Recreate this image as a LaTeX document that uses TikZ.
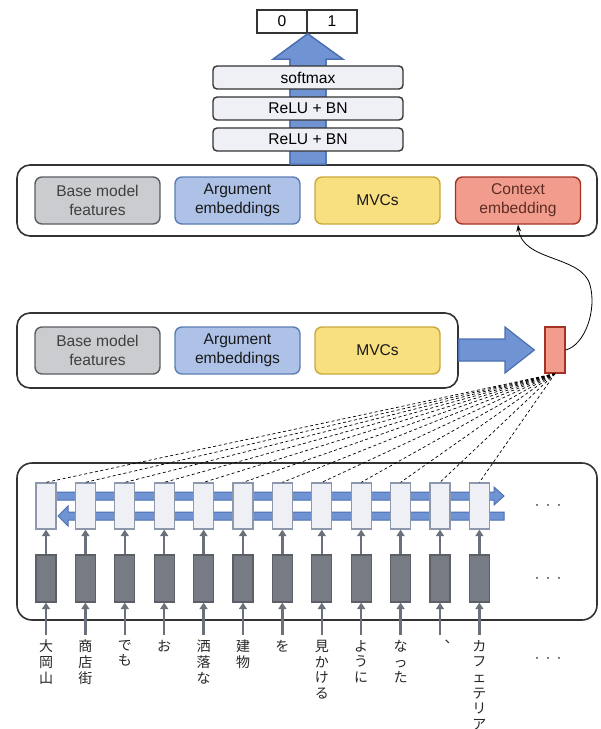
\documentclass[tikz,border=0pt]{standalone}
\usepackage{fontspec}
\setmainfont{Liberation Sans}
\newfontfamily\jpfont{Noto Sans CJK JP}
\usetikzlibrary{arrows.meta,calc}

\definecolor{frame}{HTML}{333333}
\definecolor{layerfill}{HTML}{EFF0F5}
\definecolor{basefill}{HTML}{CBCCD0}
\definecolor{baseline}{HTML}{5A5D62}
\definecolor{argfill}{HTML}{AEC2E8}
\definecolor{argline}{HTML}{5B7DB5}
\definecolor{mvcfill}{HTML}{F8DF80}
\definecolor{mvcline}{HTML}{C8A93B}
\definecolor{ctxfill}{HTML}{F19C8C}
\definecolor{ctxline}{HTML}{A33325}
\definecolor{ctxtext}{HTML}{5C2D25}
\definecolor{flowfill}{HTML}{6F93D3}
\definecolor{flowline}{HTML}{4C6FB0}
\definecolor{cellfill}{HTML}{EEF0F6}
\definecolor{cellline}{HTML}{8E98AC}
\definecolor{embfill}{HTML}{777B83}
\definecolor{embline}{HTML}{5C5F65}
\definecolor{linkgray}{HTML}{6B717B}

\tikzset{
  container/.style={draw=frame, fill=white, line width=1.6pt, rounded corners=13pt},
  feat/.style={rounded corners=7pt, line width=1.4pt, minimum width=125pt,
    minimum height=47pt, align=center, inner sep=0pt,
    font=\fontsize{15.6}{18.7}\selectfont},
  basefeat/.style={feat, draw=baseline, fill=basefill, text=black!75},
  argfeat/.style={feat, draw=argline, fill=argfill, text=black!90},
  mvcfeat/.style={feat, draw=mvcline, fill=mvcfill, text=black!90},
  ctxfeat/.style={feat, draw=ctxline, fill=ctxfill, text=ctxtext},
  layer/.style={draw=frame, fill=layerfill, line width=1.4pt, rounded corners=4pt,
    minimum width=190pt, minimum height=23pt, inner sep=0pt,
    font=\fontsize{15.6}{18}\selectfont},
  outcell/.style={draw=frame, fill=white, line width=1.4pt, minimum width=50pt,
    minimum height=23pt, inner sep=0pt, font=\fontsize{15.6}{18}\selectfont},
  flow/.style={fill=flowfill, draw=flowline, line width=1.2pt, line join=miter},
  cell/.style={draw=cellline, fill=cellfill, line width=1.3pt, minimum width=20pt,
    minimum height=46pt, inner sep=0pt},
  emb/.style={draw=embline, fill=embfill, line width=1.3pt, minimum width=20pt,
    minimum height=47pt, inner sep=0pt},
  feed/.style={draw=linkgray, line width=2.4pt, -{Triangle[length=6.5pt,width=8pt]}},
  attn/.style={draw=black, line width=0.7pt, dash pattern=on 3pt off 2.5pt},
  word/.style={inner sep=0pt, anchor=north, align=center,
    font=\jpfont\fontsize{14}{15.6}\selectfont, text=black!85},
  more/.style={font=\fontsize{15}{17}\selectfont, text=black!85}
}

\begin{document}
\begin{tikzpicture}[x=1pt, y=-1pt]
\useasboundingbox (0,0) rectangle (601,729);

% ---- containers ----
\node[container, minimum width=580pt, minimum height=71pt] (feats) at (307,200.5) {};
\node[container, minimum width=441pt, minimum height=75pt] (base) at (237.5,350.5) {};
\node[container, minimum width=580pt, minimum height=157pt, rounded corners=15pt] (enc) at (307,541.5) {};

% ---- output ----
\node[outcell] (o0) at (282,21.5) {0};
\node[outcell] (o1) at (332,21.5) {1};

% big upward flow from the feature block to the output
\fill[flow] ($(feats.north)+(-17,0)$) -- ($(feats.north)+(-17,-105)$)
  -- ($(feats.north)+(-34,-105)$) -- (o0.south east)
  -- ($(feats.north)+(36,-105)$) -- ($(feats.north)+(19,-105)$)
  -- ($(feats.north)+(19,0)$) -- cycle;
\draw[flow, fill=none] ($(feats.north)+(-17,0)$) -- ($(feats.north)+(-17,-105)$)
  -- ($(feats.north)+(-34,-105)$) -- (o0.south east)
  -- ($(feats.north)+(36,-105)$) -- ($(feats.north)+(19,-105)$)
  -- ($(feats.north)+(19,0)$);

% dense layers
\node[layer] (smax) at (308,77.5) {softmax};
\node[layer] (relu1) at (308,108.5) {ReLU + BN};
\node[layer] (relu2) at (308,139.5) {ReLU + BN};

% ---- feature groups ----
\node[basefeat] (f1) at (97.5,200.5) {Base model\\features};
\node[argfeat]  (f2) at (237.5,200.5) {Argument\\embeddings};
\node[mvcfeat]  (f3) at (377.5,200.5) {MVCs};
\node[ctxfeat]  (f4) at (518,200.5) {Context\\embedding};

\node[basefeat] (g1) at (97.5,350.5) {Base model\\features};
\node[argfeat]  (g2) at (237.5,350.5) {Argument\\embeddings};
\node[mvcfeat]  (g3) at (377.5,350.5) {MVCs};

% context vector
\node[draw=ctxline, fill=ctxfill, line width=1.3pt, minimum width=20pt,
  minimum height=46pt, inner sep=0pt] (ctx) at (555,350) {};

% arrow from the base block into the context vector
\filldraw[flow] (base.east |- 0,339) -- (505,339) -- (505,327)
  -- ($(ctx.west)+(-10,0)$) -- (505,373) -- (505,361) -- (base.east |- 0,361) -- cycle;

% context vector feeds the context embedding
\draw[line width=0.8pt, -{Stealth[length=7pt,width=5pt]}]
  (ctx.east) .. controls (585,345) and (597,310) .. (590,285)
  .. controls (582,255) and (522,262) .. (f4.south);

% ---- bidirectional encoder ----
\filldraw[flow, line width=1pt] (56,492) -- (494,492) -- (494,487) -- (504,496)
  -- (494,505) -- (494,500) -- (56,500) -- cycle;
\filldraw[flow, line width=1pt] (504,512) -- (68,512) -- (68,506) -- (58,516)
  -- (68,526) -- (68,520) -- (504,520) -- cycle;

\foreach \w/\dx [count=\i] in {大\\岡\\山/0, 商\\店\\街/0, で\\も/0, お/0, 洒\\落\\な/0,
    建\\物/0, を/0, 見\\か\\け\\る/0, よ\\う\\に/0, な\\っ\\た/0, ︑/3,
    カ\\フ\\ェ\\テ\\リ\\ア/0} {
  \pgfmathsetmacro{\cx}{46+39.4*(\i-1)}
  \node[cell] (c\i) at (\cx,506) {};
  \node[emb]  (d\i) at (\cx,578.5) {};
  \node[word] (w\i) at (\cx+\dx,640) {\w};
  \draw[feed] (d\i.north |- w\i.north) ++(0,-5) -- (d\i.south);
  \draw[feed] (d\i.north) -- (c\i.south);
  \draw[attn] (ctx.south) -- (c\i.north);
}

% continuation marks
\node[more] (m1) at (548,507) {·\hspace{6pt}·\hspace{6pt}·};
\node[more] (m2) at (548,580) {·\hspace{6pt}·\hspace{6pt}·};
\node[more] (m3) at (548,660) {·\hspace{6pt}·\hspace{6pt}·};
\end{tikzpicture}
\end{document}
